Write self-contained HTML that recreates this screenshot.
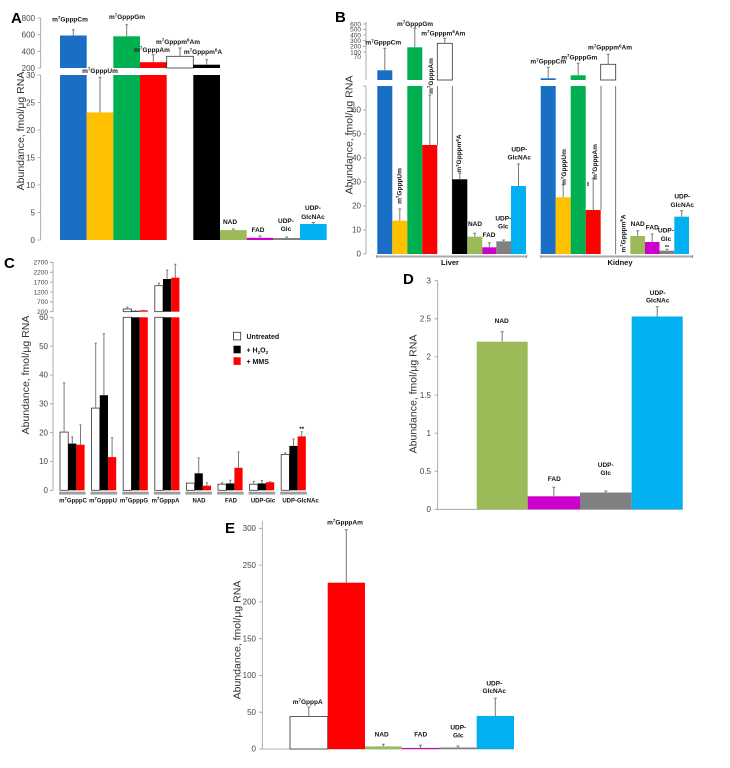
<!DOCTYPE html>
<html><head><meta charset="utf-8"><style>
html,body{margin:0;padding:0;background:#fff;}
svg{display:block;}
.t{font-family:"Liberation Sans",sans-serif;font-size:8px;fill:#444;text-anchor:end;}
.ts{font-family:"Liberation Sans",sans-serif;font-size:6.5px;fill:#444;text-anchor:end;}
.bl{font-family:"Liberation Sans",sans-serif;font-size:6.5px;font-weight:bold;fill:#111;text-anchor:middle;}
.cl{font-family:"Liberation Sans",sans-serif;font-size:6px;font-weight:bold;fill:#111;text-anchor:middle;}
.s{font-size:4.5px;}
.yl{font-family:"Liberation Sans",sans-serif;font-size:10.5px;fill:#333;text-anchor:middle;}
.pl{font-family:"Liberation Sans",sans-serif;font-size:15px;font-weight:bold;fill:#000;}
.lg{font-family:"Liberation Sans",sans-serif;font-size:7px;font-weight:bold;fill:#111;}
.ax{stroke:#999;stroke-width:0.8;fill:none;}
.e{stroke:#7a7a7a;stroke-width:1;fill:none;}
.w{fill:#fff;stroke:#333;stroke-width:0.8;}
</style></head><body>
<svg width="730" height="768" viewBox="0 0 730 768" xmlns="http://www.w3.org/2000/svg">
<rect width="730" height="768" fill="#fff"/>

<!-- ================= PANEL A ================= -->
<text class="pl" x="11" y="23">A</text>
<line class="ax" x1="40.7" y1="18" x2="40.7" y2="68"/>
<path class="ax" d="M37.5 18H40.7M37.5 34.7H40.7M37.5 51.3H40.7M37.5 68H40.7"/>
<text class="t" x="35" y="21">800</text><text class="t" x="35" y="37.7">600</text><text class="t" x="35" y="54.3">400</text><text class="t" x="35" y="71">200</text>
<line class="ax" x1="40.7" y1="75" x2="40.7" y2="240"/>
<path class="ax" d="M37.5 75H40.7M37.5 102.5H40.7M37.5 130H40.7M37.5 157.5H40.7M37.5 185H40.7M37.5 212.5H40.7M37.5 240H40.7"/>
<text class="t" x="35" y="78">30</text><text class="t" x="35" y="105.5">25</text><text class="t" x="35" y="133">20</text><text class="t" x="35" y="160.5">15</text><text class="t" x="35" y="188">10</text><text class="t" x="35" y="215.5">5</text><text class="t" x="35" y="243">0</text>
<text class="yl" transform="translate(24,131) rotate(-90)">Abundance, fmol/μg RNA</text>

<rect x="60" y="35.5" width="26.7" height="32.5" fill="#1a6fc4"/>
<rect x="60" y="75" width="26.7" height="165" fill="#1a6fc4"/>
<rect x="86.7" y="112.4" width="26.6" height="127.6" fill="#ffc000"/>
<rect x="113.3" y="36.3" width="26.7" height="31.7" fill="#00b050"/>
<rect x="113.3" y="75" width="26.7" height="165" fill="#00b050"/>
<rect x="140" y="62.2" width="26.7" height="5.8" fill="#ff0000"/>
<rect x="140" y="75" width="26.7" height="165" fill="#ff0000"/>
<rect class="w" x="166.7" y="56.3" width="26.6" height="11.7"/>
<rect x="193.3" y="64.7" width="26.7" height="3.3" fill="#000"/>
<rect x="193.3" y="75" width="26.7" height="165" fill="#000"/>
<rect x="220" y="230.1" width="26.7" height="9.9" fill="#9bbb59"/>
<rect x="246.7" y="237.8" width="26.6" height="2.2" fill="#cc00cc"/>
<rect x="273.3" y="238" width="26.7" height="2" fill="#808080"/>
<rect x="300" y="224" width="26.7" height="16" fill="#00b0f0"/>
<path class="e" d="M73.3 35.5V29.7M71.8 29.7H74.8 M100 112.4V77.2M98.5 77.2H101.5 M126.7 36.3V24.7M125.2 24.7H128.2 M153.3 62.2V54.7M151.8 54.7H154.8 M180 56.3V48M178.5 48H181.5 M206.7 64.7V59.7M205.2 59.7H208.2 M233.3 230.1V229M231.8 229H234.8 M260 237.8V236M258.5 236H261.5 M286.7 238V237M285.2 237H288.2 M313.3 224V222.5M311.8 222.5H314.8"/>

<text class="bl" x="70" y="21.5">m<tspan class="s" dy="-2.3">7</tspan><tspan dy="2.3">GpppCm</tspan></text>
<text class="bl" x="100" y="73">m<tspan class="s" dy="-2.3">7</tspan><tspan dy="2.3">GpppUm</tspan></text>
<text class="bl" x="127" y="19">m<tspan class="s" dy="-2.3">7</tspan><tspan dy="2.3">GpppGm</tspan></text>
<text class="bl" x="152" y="52">m<tspan class="s" dy="-2.3">7</tspan><tspan dy="2.3">GpppAm</tspan></text>
<text class="bl" x="178" y="44">m<tspan class="s" dy="-2.3">7</tspan><tspan dy="2.3">Gpppm</tspan><tspan class="s" dy="-2.3">6</tspan><tspan dy="2.3">Am</tspan></text>
<text class="bl" x="203" y="54">m<tspan class="s" dy="-2.3">7</tspan><tspan dy="2.3">Gpppm</tspan><tspan class="s" dy="-2.3">6</tspan><tspan dy="2.3">A</tspan></text>
<text class="bl" x="230" y="224">NAD</text>
<text class="bl" x="258" y="232">FAD</text>
<text class="bl" x="286" y="223">UDP-</text><text class="bl" x="286" y="231">Glc</text>
<text class="bl" x="313" y="210">UDP-</text><text class="bl" x="313" y="219">GlcNAc</text>

<!-- ================= PANEL B ================= -->
<text class="pl" x="335" y="22">B</text>
<line class="ax" x1="366" y1="22" x2="366" y2="80"/>
<path class="ax" d="M363 24H366M363 29.3H366M363 35H366M363 40.7H366M363 46.3H366M363 52H366"/>
<text class="ts" x="361" y="26.3">600</text><text class="ts" x="361" y="31.6">500</text><text class="ts" x="361" y="37.3">400</text><text class="ts" x="361" y="43">300</text><text class="ts" x="361" y="48.6">200</text><text class="ts" x="361" y="54.3">100</text><text class="ts" x="361" y="59">70</text>
<line class="ax" x1="366" y1="86" x2="366" y2="254"/>
<path class="ax" d="M363 86H366M363 110H366M363 134H366M363 158H366M363 182H366M363 206H366M363 230H366M363 254H366"/>
<text class="t" x="361" y="112.7">60</text><text class="t" x="361" y="136.7">50</text><text class="t" x="361" y="160.7">40</text><text class="t" x="361" y="184.7">30</text><text class="t" x="361" y="208.7">20</text><text class="t" x="361" y="232.7">10</text><text class="t" x="361" y="256.7">0</text>
<text class="yl" transform="translate(352.5,135) rotate(-90)">Abundance, fmol/μg RNA</text>

<!-- liver -->
<rect x="377.3" y="70.3" width="15" height="9.7" fill="#1a6fc4"/>
<rect x="377.3" y="86" width="15" height="168" fill="#1a6fc4"/>
<rect x="392.3" y="220.7" width="15" height="33.3" fill="#ffc000"/>
<rect x="407.3" y="47.3" width="15" height="32.7" fill="#00b050"/>
<rect x="407.3" y="86" width="15" height="168" fill="#00b050"/>
<rect x="422.3" y="145" width="15" height="109" fill="#ff0000"/>
<rect class="w" x="437.3" y="43.3" width="15" height="36.7"/>
<path d="M437.6 86V145M452.3 86V254" stroke="#555" stroke-width="0.8"/>
<rect x="452.3" y="179.3" width="15" height="74.7" fill="#000"/>
<rect x="467.3" y="236.7" width="15" height="17.3" fill="#9bbb59"/>
<rect x="482.3" y="247.3" width="14" height="6.7" fill="#cc00cc"/>
<rect x="496.3" y="241.3" width="14.7" height="12.7" fill="#808080"/>
<rect x="511" y="186" width="15" height="68" fill="#00b0f0"/>
<path class="e" d="M384.8 70.3V48.3M383.3 48.3H386.3 M399.8 220.7V209M398.3 209H401.3 M414.8 47.3V28.3M413.3 28.3H416.3 M429.8 145V95M428.3 95H431.3 M444.8 43.3V38.3M443.3 38.3H446.3 M459.8 179.3V173.3M458.3 173.3H461.3 M474.8 236.7V233.3M473.3 233.3H476.3 M489.3 247.3V242.7M487.8 242.7H490.8 M503.6 241.3V240M502.1 240H505.1 M518.5 186V164M517 164H520"/>
<!-- kidney -->
<rect x="540.7" y="78.3" width="15" height="1.7" fill="#1a6fc4"/>
<rect x="540.7" y="86" width="15" height="168" fill="#1a6fc4"/>
<rect x="555.7" y="197.3" width="15" height="56.7" fill="#ffc000"/>
<rect x="570.7" y="75.3" width="15" height="4.7" fill="#00b050"/>
<rect x="570.7" y="86" width="15" height="168" fill="#00b050"/>
<rect x="585.7" y="210" width="15" height="44" fill="#ff0000"/>
<rect class="w" x="600.7" y="64.3" width="15" height="15.7"/>
<path d="M601 86V210M615.7 86V254" stroke="#555" stroke-width="0.8"/>
<rect x="630.3" y="236" width="14.7" height="18" fill="#9bbb59"/>
<rect x="645" y="242" width="14.5" height="12" fill="#cc00cc"/>
<rect x="659.5" y="250.7" width="14.8" height="3.3" fill="#808080"/>
<rect x="674.3" y="216.7" width="14.7" height="37.3" fill="#00b0f0"/>
<path class="e" d="M548.2 78.3V67.3M546.7 67.3H549.7 M563.2 197.3V185M561.7 185H564.7 M578.2 75.3V63.3M576.7 63.3H579.7 M593.2 210V178.3M591.7 178.3H594.7 M608.2 64.3V54.3M606.7 54.3H609.7 M637.7 236V230.7M636.2 230.7H639.2 M652.2 242V234M650.7 234H653.7 M667 250.7V249.3M665.5 249.3H668.5 M681.7 216.7V210.7M680.2 210.7H683.2"/>
<!-- group lines -->
<path d="M376.7 256.5H526.7M540.7 256.5H692.7" stroke="#aaa" stroke-width="2"/>
<path d="M376.7 255.3V258M526.7 255.3V258M540.7 255.3V258M692.7 255.3V258" stroke="#777" stroke-width="0.8"/>
<text class="bl" x="450" y="265" style="font-size:7.5px">Liver</text>
<text class="bl" x="620" y="265" style="font-size:7.5px">Kidney</text>

<text class="bl" x="383.3" y="44.7">m<tspan class="s" dy="-2.3">7</tspan><tspan dy="2.3">GpppCm</tspan></text>
<text class="bl" x="415" y="26">m<tspan class="s" dy="-2.3">7</tspan><tspan dy="2.3">GpppGm</tspan></text>
<text class="bl" x="443.3" y="35.3">m<tspan class="s" dy="-2.3">7</tspan><tspan dy="2.3">Gpppm</tspan><tspan class="s" dy="-2.3">6</tspan><tspan dy="2.3">Am</tspan></text>
<text class="bl" transform="translate(432.8,76) rotate(-90)">m<tspan class="s" dy="-2.3">7</tspan><tspan dy="2.3">GpppAm</tspan></text>
<text class="bl" transform="translate(401.5,186) rotate(-90)">m<tspan class="s" dy="-2.3">7</tspan><tspan dy="2.3">GpppUm</tspan></text>
<text class="bl" transform="translate(461.2,153.5) rotate(-90)">m<tspan class="s" dy="-2.3">7</tspan><tspan dy="2.3">Gpppm</tspan><tspan class="s" dy="-2.3">6</tspan><tspan dy="2.3">A</tspan></text>
<text class="bl" x="475" y="226">NAD</text>
<text class="bl" x="489" y="237">FAD</text>
<text class="bl" x="503.3" y="220.3">UDP-</text><text class="bl" x="503.3" y="228.7">Glc</text>
<text class="bl" x="519.3" y="151.3">UDP-</text><text class="bl" x="519.3" y="159.7">GlcNAc</text>

<text class="bl" x="548.3" y="63.7">m<tspan class="s" dy="-2.3">7</tspan><tspan dy="2.3">GpppCm</tspan></text>
<text class="bl" x="579.3" y="59.3">m<tspan class="s" dy="-2.3">7</tspan><tspan dy="2.3">GpppGm</tspan></text>
<text class="bl" x="610" y="49.7">m<tspan class="s" dy="-2.3">7</tspan><tspan dy="2.3">Gpppm</tspan><tspan class="s" dy="-2.3">6</tspan><tspan dy="2.3">Am</tspan></text>
<text class="bl" transform="translate(566.2,167) rotate(-90)">m<tspan class="s" dy="-2.3">7</tspan><tspan dy="2.3">GpppUm</tspan></text>
<text class="bl" transform="translate(597.2,162) rotate(-90)">m<tspan class="s" dy="-2.3">7</tspan><tspan dy="2.3">GpppAm</tspan></text>
<text class="bl" transform="translate(625.5,233.5) rotate(-90)">m<tspan class="s" dy="-2.3">7</tspan><tspan dy="2.3">Gpppm</tspan><tspan class="s" dy="-2.3">6</tspan><tspan dy="2.3">A</tspan></text>
<text class="bl" transform="translate(591,184) rotate(-90)" style="font-size:5px">**</text>
<text class="bl" x="637.7" y="226">NAD</text>
<text class="bl" x="652.3" y="229.3">FAD</text>
<text class="bl" x="666" y="232.7">UDP-</text><text class="bl" x="666" y="241">Glc</text>
<text class="bl" x="667" y="249" style="font-size:5.5px">**</text>
<text class="bl" x="682.3" y="198.7">UDP-</text><text class="bl" x="682.3" y="207">GlcNAc</text>

<!-- ================= PANEL C ================= -->
<text class="pl" x="4" y="268">C</text>
<line class="ax" x1="53" y1="262" x2="53" y2="312"/>
<path class="ax" d="M50 262.3H53M50 272.2H53M50 282.1H53M50 292H53M50 301.8H53M50 311.7H53"/>
<text class="ts" x="48" y="264.6">2700</text><text class="ts" x="48" y="274.5">2200</text><text class="ts" x="48" y="284.4">1700</text><text class="ts" x="48" y="294.3">1200</text><text class="ts" x="48" y="304.1">700</text><text class="ts" x="48" y="314">200</text>
<line class="ax" x1="53" y1="317.3" x2="53" y2="490.3"/>
<path class="ax" d="M50 317.3H53M50 346.1H53M50 375H53M50 403.8H53M50 432.6H53M50 461.5H53M50 490.3H53"/>
<text class="t" x="48" y="320">60</text><text class="t" x="48" y="348.8">50</text><text class="t" x="48" y="377.7">40</text><text class="t" x="48" y="406.5">30</text><text class="t" x="48" y="435.3">20</text><text class="t" x="48" y="464.2">10</text><text class="t" x="48" y="493">0</text>
<text class="yl" transform="translate(29,375) rotate(-90)">Abundance, fmol/μg RNA</text>

<!-- g0 -->
<rect class="w" x="60" y="432.1" width="8.2" height="58.2"/>
<rect x="68.2" y="443.6" width="8.2" height="46.7" fill="#000"/>
<rect x="76.4" y="444.7" width="8.2" height="45.6" fill="#ff0000"/>
<!-- g1 -->
<rect class="w" x="91.6" y="408.1" width="8.2" height="82.2"/>
<rect x="99.8" y="395.2" width="8.2" height="95.1" fill="#000"/>
<rect x="108" y="457.1" width="8.2" height="33.2" fill="#ff0000"/>
<!-- g2 -->
<rect class="w" x="123.2" y="317.3" width="8.2" height="173"/>
<rect x="131.4" y="317.3" width="8.2" height="173" fill="#000"/>
<rect x="139.6" y="317.3" width="8.2" height="173" fill="#ff0000"/>
<rect class="w" x="123.2" y="309" width="8.2" height="2.7"/>
<rect x="131.4" y="310.8" width="8.2" height="0.9" fill="#000"/>
<rect x="139.6" y="310.3" width="8.2" height="1.4" fill="#ff0000"/>
<!-- g3 -->
<rect class="w" x="154.8" y="317.3" width="8.2" height="173"/>
<rect x="163" y="317.3" width="8.2" height="173" fill="#000"/>
<rect x="171.2" y="317.3" width="8.2" height="173" fill="#ff0000"/>
<rect class="w" x="154.8" y="285.7" width="8.2" height="26"/>
<rect x="163" y="279" width="8.2" height="32.7" fill="#000"/>
<rect x="171.2" y="277.7" width="8.2" height="34" fill="#ff0000"/>
<!-- g4 -->
<rect class="w" x="186.4" y="483.1" width="8.2" height="7.2"/>
<rect x="194.6" y="473.3" width="8.2" height="17" fill="#000"/>
<rect x="202.8" y="485.7" width="8.2" height="4.6" fill="#ff0000"/>
<!-- g5 -->
<rect class="w" x="218" y="484.2" width="8.2" height="6.1"/>
<rect x="226.2" y="483.4" width="8.2" height="6.9" fill="#000"/>
<rect x="234.4" y="467.8" width="8.2" height="22.5" fill="#ff0000"/>
<!-- g6 -->
<rect class="w" x="249.6" y="484.2" width="8.2" height="6.1"/>
<rect x="257.8" y="483.4" width="8.2" height="6.9" fill="#000"/>
<rect x="266" y="482.2" width="8.2" height="8.1" fill="#ff0000"/>
<!-- g7 -->
<rect class="w" x="281.2" y="454.5" width="8.2" height="35.8"/>
<rect x="289.4" y="445.9" width="8.2" height="44.4" fill="#000"/>
<rect x="297.6" y="436.4" width="8.2" height="53.9" fill="#ff0000"/>
<text class="bl" x="301.7" y="431" style="font-size:6px">**</text>
<path class="e" stroke-width="0.8" d="M64.1 432.1V382.8M63 382.8H65.2 M72.3 443.6V437M71.2 437H73.4 M80.5 444.7V424.9M79.4 424.9H81.6
M95.7 408.1V343.3M94.6 343.3H96.8 M103.9 395.2V333.8M102.8 333.8H105 M112.1 457.1V437.8M111 437.8H113.2
M127.3 309V307.3M126.2 307.3H128.4 M135.5 310.8V310M143.7 310.3V309.5
M158.9 285.7V283.3M157.8 283.3H160 M167.1 279V270M166 270H168.2 M175.3 277.7V264.3M174.2 264.3H176.4
M198.7 473.3V458M197.6 458H199.8 M206.9 485.7V482.8M205.8 482.8H208
M222.1 484.2V482.8M221 482.8H223.2 M230.3 483.4V480.2M229.2 480.2H231.4 M238.5 467.8V452M237.4 452H239.6
M253.7 484.2V481.4M252.6 481.4H254.8 M261.9 483.4V480.5M260.8 480.5H263 M270.1 482.2V481.7M269 481.7H271.2
M285.3 454.5V452.8M284.2 452.8H286.4 M293.5 445.9V439M292.4 439H294.6 M301.7 436.4V431.8M300.6 431.8H302.8"/>
<!-- group underlines -->
<path d="M59 492.6H85.6M90.6 492.6H117.2M122.2 492.6H148.8M153.8 492.6H180.4M185.4 492.6H212M217 492.6H243.6M248.6 492.6H275.2M280.2 492.6H306.8" stroke="#999" stroke-width="1.6"/>
<path d="M59 494H85.6M90.6 494H117.2M122.2 494H148.8M153.8 494H180.4M185.4 494H212M217 494H243.6M248.6 494H275.2M280.2 494H306.8" stroke="#222" stroke-width="0.6"/>
<text class="cl" x="73" y="502.5">m<tspan class="s" dy="-2.3">7</tspan><tspan dy="2.3">GpppC</tspan></text>
<text class="cl" x="103" y="502.5">m<tspan class="s" dy="-2.3">7</tspan><tspan dy="2.3">GpppU</tspan></text>
<text class="cl" x="134" y="502.5">m<tspan class="s" dy="-2.3">7</tspan><tspan dy="2.3">GpppG</tspan></text>
<text class="cl" x="165.5" y="502.5">m<tspan class="s" dy="-2.3">7</tspan><tspan dy="2.3">GpppA</tspan></text>
<text class="cl" x="199" y="502.5">NAD</text>
<text class="cl" x="231" y="502.5">FAD</text>
<text class="cl" x="263" y="502.5">UDP-Glc</text>
<text class="cl" x="300.5" y="502.5">UDP-GlcNAc</text>
<!-- legend -->
<rect x="233.5" y="332.3" width="7.2" height="7.6" fill="#fff" stroke="#333" stroke-width="0.8"/>
<rect x="233.5" y="345.7" width="7.2" height="7.6" fill="#000"/>
<rect x="233.5" y="357.3" width="7.2" height="7.6" fill="#ff0000"/>
<text class="lg" x="246.5" y="339.2">Untreated</text>
<text class="lg" x="246.5" y="352.5">+ H<tspan class="s" dy="1.5">2</tspan><tspan dy="-1.5">O</tspan><tspan class="s" dy="1.5">2</tspan></text>
<text class="lg" x="246.5" y="364">+ MMS</text>

<!-- ================= PANEL D ================= -->
<text class="pl" x="403" y="284">D</text>
<line class="ax" x1="437.7" y1="280.7" x2="437.7" y2="509.3"/>
<line class="ax" x1="437.7" y1="509.3" x2="683" y2="509.3"/>
<path class="ax" d="M434.5 280.7H437.7M434.5 318.8H437.7M434.5 356.9H437.7M434.5 395H437.7M434.5 433.1H437.7M434.5 471.2H437.7M434.5 509.3H437.7"/>
<text class="t" x="431" y="283.5">3</text><text class="t" x="431" y="321.6">2.5</text><text class="t" x="431" y="359.7">2</text><text class="t" x="431" y="397.8">1.5</text><text class="t" x="431" y="435.9">1</text><text class="t" x="431" y="474">0.5</text><text class="t" x="431" y="512.1">0</text>
<text class="yl" transform="translate(416.5,394) rotate(-90)">Abundance, fmol/μg RNA</text>
<rect x="476.7" y="341.7" width="51" height="167.6" fill="#9bbb59"/>
<rect x="527.7" y="496.3" width="52.3" height="13" fill="#cc00cc"/>
<rect x="580" y="492.5" width="51.7" height="16.8" fill="#808080"/>
<rect x="631.7" y="316.5" width="51" height="192.8" fill="#00b0f0"/>
<path class="e" d="M502.2 341.7V331.8M500.7 331.8H503.7 M553.8 496.3V487.2M552.3 487.2H555.3 M605.8 492.5V491M604.3 491H607.3 M657.2 316.5V306.6M655.7 306.6H658.7"/>
<text class="bl" x="501.7" y="323">NAD</text>
<text class="bl" x="554.3" y="481">FAD</text>
<text class="bl" x="605.7" y="467">UDP-</text><text class="bl" x="605.7" y="475">Glc</text>
<text class="bl" x="657.7" y="295">UDP-</text><text class="bl" x="657.7" y="302.5">GlcNAc</text>

<!-- ================= PANEL E ================= -->
<text class="pl" x="225" y="533">E</text>
<line class="ax" x1="262.3" y1="521" x2="262.3" y2="749"/>
<line class="ax" x1="262.3" y1="749" x2="514" y2="749"/>
<path class="ax" d="M259 528.3H262.3M259 565.1H262.3M259 601.9H262.3M259 638.7H262.3M259 675.4H262.3M259 712.2H262.3M259 749H262.3"/>
<text class="t" x="256" y="531">300</text><text class="t" x="256" y="567.8">250</text><text class="t" x="256" y="604.6">200</text><text class="t" x="256" y="641.4">150</text><text class="t" x="256" y="678.1">100</text><text class="t" x="256" y="714.9">50</text><text class="t" x="256" y="751.7">0</text>
<text class="yl" transform="translate(240.5,640) rotate(-90)">Abundance, fmol/μg RNA</text>
<rect class="w" x="290" y="716.6" width="37.7" height="32.4"/>
<rect x="327.7" y="582.7" width="37.3" height="166.3" fill="#ff0000"/>
<rect x="365" y="746.4" width="36.7" height="2.6" fill="#9bbb59"/>
<rect x="401.7" y="747.9" width="37.6" height="1.1" fill="#cc00cc"/>
<rect x="439.3" y="747.5" width="37.4" height="1.5" fill="#808080"/>
<rect x="476.7" y="715.9" width="37.3" height="33.1" fill="#00b0f0"/>
<path class="e" d="M308.8 716.6V707M307.3 707H310.3 M346.3 582.7V529.7M344.8 529.7H347.8 M383.3 746.4V744.2M381.8 744.2H384.8 M420.5 747.9V745.3M419 745.3H422 M458 747.5V746M456.5 746H459.5 M495.3 715.9V698.2M493.8 698.2H496.8"/>
<text class="bl" x="307.7" y="704">m<tspan class="s" dy="-2.3">7</tspan><tspan dy="2.3">GpppA</tspan></text>
<text class="bl" x="345" y="524.5">m<tspan class="s" dy="-2.3">7</tspan><tspan dy="2.3">GpppAm</tspan></text>
<text class="bl" x="381.7" y="736.5">NAD</text>
<text class="bl" x="420.7" y="736.5">FAD</text>
<text class="bl" x="458.3" y="729.5">UDP-</text><text class="bl" x="458.3" y="737.5">Glc</text>
<text class="bl" x="494.3" y="685.5">UDP-</text><text class="bl" x="494.3" y="693">GlcNAc</text>
</svg>
</body></html>
